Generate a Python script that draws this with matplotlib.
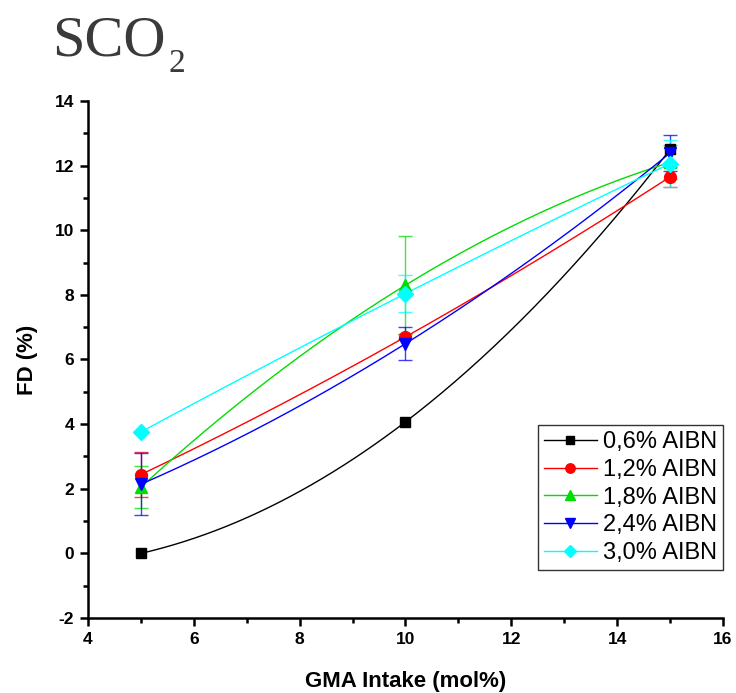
import numpy as np
import matplotlib
matplotlib.use("Agg")
import matplotlib.pyplot as plt
from matplotlib.ticker import MultipleLocator

# GMA intake (mol%) and the measured FD (%) for each AIBN loading
gma_intake = [5, 10, 15]
labels = ["0,6% AIBN", "1,2% AIBN", "1,8% AIBN", "2,4% AIBN", "3,0% AIBN"]

fd_06 = [0.0, 4.07, 12.50]
fd_12 = [2.44, 6.70, 11.65]
fd_18 = [2.05, 8.30, 12.10]
fd_24 = [2.14, 6.49, 12.39]
fd_30 = [3.76, 8.04, 12.06]

err_06 = [0.0, 0.0, 0.0]
err_12 = [0.70, 0.08, 0.30]
err_18 = [0.66, 1.52, 0.53]
err_24 = [0.96, 0.52, 0.55]
err_30 = [0.0, 0.56, 0.72]

series = [fd_06, fd_12, fd_18, fd_24, fd_30]
errors = [err_06, err_12, err_18, err_24, err_30]
colors = ["#000000", "#ff0000", "#00dd00", "#0000ff", "#00ffff"]
markers = ["s", "o", "^", "v", "D"]
msizes = [7.5, 8.5, 9, 9, 8]

plt.rcParams["font.family"] = ["Liberation Sans", "DejaVu Sans"]
plt.rcParams["axes.unicode_minus"] = False

fig = plt.figure(figsize=(7.36, 6.93), dpi=100)
ax = fig.add_axes([0.1196, 0.1082, 0.8627, 0.7461])

x = np.asarray(gma_intake, dtype=float)
xs = np.linspace(x.min(), x.max(), 200)
handles = []
for y, e, c, m, ms, lab in zip(series, errors, colors, markers, msizes, labels):
    y = np.asarray(y, dtype=float)
    # smooth curve through the three measured points
    coef = np.polyfit(x, y, 2)
    ax.plot(xs, np.polyval(coef, xs), color=c, lw=1.0, zorder=2)
    e = np.asarray(e, dtype=float)
    mask = e > 0
    if mask.any():
        ax.errorbar(x[mask], y[mask], yerr=e[mask], fmt="none", ecolor=c,
                    elinewidth=1.0, capsize=5, capthick=1.0, alpha=0.75, zorder=3)
    ax.plot(x, y, linestyle="none", marker=m, ms=ms, color=c, mec=c, zorder=4)
    h, = ax.plot([], [], color=c, lw=1.0, marker=m, ms=ms * 0.8, mec=c)
    handles.append(h)

ax.set_xlim(4, 16)
ax.set_ylim(-2, 14)
ax.xaxis.set_major_locator(MultipleLocator(2))
ax.xaxis.set_minor_locator(MultipleLocator(1))
ax.yaxis.set_major_locator(MultipleLocator(2))
ax.yaxis.set_minor_locator(MultipleLocator(1))

for side in ("top", "right"):
    ax.spines[side].set_visible(False)
for side in ("left", "bottom"):
    ax.spines[side].set_linewidth(1.8)

ax.tick_params(which="major", direction="out", length=6, width=1.8,
               labelsize=12.5, pad=4)
ax.tick_params(which="minor", direction="out", length=3.5, width=1.8)
for t in ax.get_xticklabels() + ax.get_yticklabels():
    t.set_fontweight("bold")

ax.set_xlabel("GMA Intake (mol%)", fontsize=16, fontweight="bold", labelpad=17)
ax.set_ylabel("FD (%)", fontsize=16, fontweight="bold", labelpad=12)

leg = ax.legend(handles, labels, loc="lower right", bbox_to_anchor=(1.0, 0.093),
                borderaxespad=0, fontsize=17, frameon=True, fancybox=False,
                edgecolor="black", handlelength=2.25, handletextpad=0.26,
                labelspacing=0.24, borderpad=0.25)
leg.get_frame().set_linewidth(1.0)

# heading
fig.text(52 / 736, 1 - 55 / 693, "SCO", fontsize=42, color="#3a3a3a",
         family="Liberation Serif", ha="left", va="baseline")
fig.text(168 / 736, 1 - 72 / 693, "2", fontsize=24, color="#3a3a3a",
         family="Liberation Serif", ha="left", va="baseline")

fig.savefig("out.png", dpi=100)
